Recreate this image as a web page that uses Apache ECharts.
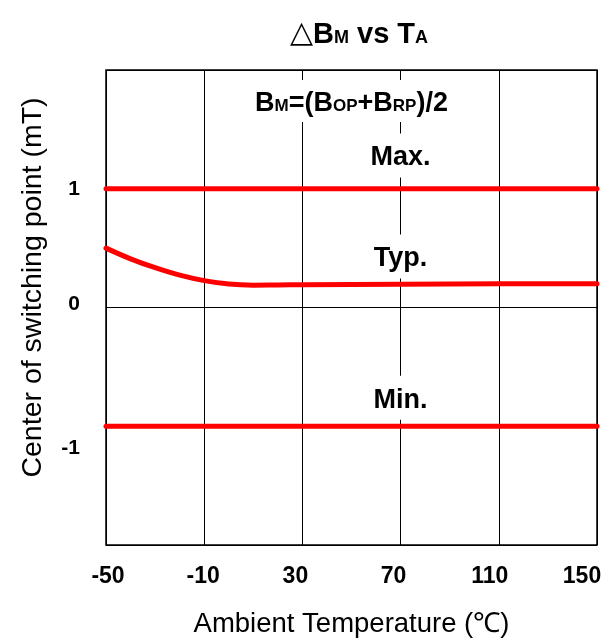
<!DOCTYPE html>
<html><head><meta charset="utf-8">
<script src="https://cdn.jsdelivr.net/npm/echarts@6/dist/echarts.min.js"></script>
<style>html,body{margin:0;padding:0;background:#fff}#c{width:609px;height:642px}</style>
</head><body><div id="c"></div>
<script>
// ---- data ----
const xTickLabels = [-50, -10, 30, 70, 110, 150];
const yTickLabels = [1, 0, -1];
const maxTemps = [-50, 150];
const maxValues = [1, 1];
const typTemps = [-50, -40, -30, -20, -10, 0, 10, 20, 30, 70, 110, 150];
const typValues = [0.5, 0.41, 0.335, 0.272, 0.226, 0.197, 0.188, 0.19, 0.192, 0.196, 0.2, 0.2];
const minTemps = [-50, 150];
const minValues = [-1, -1];
const noteTexts = ['{b|B}{s|M}{b|=(B}{s|OP}{b|+B}{s|RP}{b|)/2}', '{b|Max.}', '{b|Typ.}', '{b|Min.}'];
const noteTemps = [50, 70, 70, 70];
const noteValues = [1.74, 1.28, 0.43, -0.76];

// x axis is drawn in (T - xMin) so that ticks are counted from a multiple of the interval
const xMin = xTickLabels[0], xMax = xTickLabels[xTickLabels.length - 1];
const xStep = xTickLabels[1] - xTickLabels[0];
const shift = t => t - xMin;
const pairs = (ts, vs) => ts.map((t, i) => [shift(t), vs[i]]);

const FONT = '"Liberation Sans", Arial, sans-serif';
const RED = '#ff0000';
// horizontal nudge (px) of each x tick label, as printed in the original figure
const xLabelNudge = [2, -1, -7, -7, -9, -15];

const chart = echarts.init(document.getElementById('c'), null, {renderer: 'canvas'});
const lineStyle = {color: RED, width: 5, cap: 'round', join: 'round'};

const notes = noteTexts.map((txt, i) => ({
  value: [shift(noteTemps[i]), noteValues[i]],
  label: {
    formatter: txt,
    padding: i === 0 ? [5, 32, 5, 32] : [6, 5, 6, 5]
  }
}));

const xRich = {};
xLabelNudge.forEach((n, i) => {
  xRich['x' + i] = {
    fontFamily: FONT, fontSize: 23, fontWeight: 'bold', color: '#000',
    padding: n >= 0 ? [0, 0, 0, 2 * n] : [0, -2 * n, 0, 0]
  };
});

chart.setOption({
  animation: false,
  backgroundColor: '#fff',
  title: {
    text: '{tri|△}{b|B}{s|M}{b| vs T}{s|A}',
    left: 354, top: 6, textAlign: 'center',
    textStyle: {
      fontFamily: FONT,
      rich: {
        tri: {fontFamily: '"DejaVu Sans", sans-serif', fontSize: 30, fontWeight: 'normal', color: '#000', verticalAlign: 'bottom', lineHeight: 38},
        b: {fontFamily: FONT, fontSize: 29, fontWeight: 'bold', color: '#000', verticalAlign: 'bottom', lineHeight: 38},
        s: {fontFamily: FONT, fontSize: 18, fontWeight: 'bold', color: '#000', verticalAlign: 'bottom', lineHeight: 38, padding: [0, 0, 2, 0]}
      }
    }
  },
  grid: {left: 106, right: 12, top: 70, bottom: 97, show: true, borderColor: '#000', borderWidth: 1.5, containLabel: false, outerBoundsMode: 'none'},
  xAxis: {
    type: 'value', min: 0, max: shift(xMax), interval: xStep,
    axisLine: {show: false}, axisTick: {show: false},
    splitLine: {show: true, lineStyle: {color: '#000', width: 1}},
    axisLabel: {
      formatter: v => {
        const t = v + xMin;
        const i = xTickLabels.indexOf(t);
        return i < 0 ? '' : '{x' + i + '|' + t + '}';
      },
      margin: 20, rich: xRich,
      fontFamily: FONT, fontSize: 23, fontWeight: 'bold', color: '#000'
    },
    name: 'Ambient Temperature (℃)', nameLocation: 'middle', nameGap: 65,
    nameTextStyle: {fontFamily: FONT, fontSize: 27.5, color: '#000'}
  },
  yAxis: {
    type: 'value', min: -2, max: 2, interval: 1,
    axisLine: {show: false}, axisTick: {show: false},
    splitLine: {show: true, lineStyle: {color: '#000', width: 1}},
    axisLabel: {
      margin: 26, fontFamily: FONT, fontSize: 21, fontWeight: 'bold', color: '#000',
      formatter: v => {
        if (!yTickLabels.includes(v)) return '';
        if (v === -1) return '{dn|' + v + '}';
        if (v === 0) return '{up|' + v + '}';
        return '{n|' + v + '}';
      },
      rich: {
        n: {fontFamily: FONT, fontSize: 21, fontWeight: 'bold', color: '#000'},
        up: {fontFamily: FONT, fontSize: 21, fontWeight: 'bold', color: '#000', padding: [0, 0, 7, 0]},
        dn: {fontFamily: FONT, fontSize: 21, fontWeight: 'bold', color: '#000', padding: [43, 0, 0, 0]}
      }
    },
    name: 'Center of switching point (mT)', nameLocation: 'middle', nameGap: 58,
    nameTextStyle: {fontFamily: FONT, fontSize: 28.5, color: '#000', padding: [0, 0, 0, 40]}
  },
  series: [
    {name: 'Max.', type: 'line', data: pairs(maxTemps, maxValues), showSymbol: false, lineStyle, z: 3},
    {name: 'Typ.', type: 'line', data: pairs(typTemps, typValues), smooth: 0.4, showSymbol: false, lineStyle, z: 3},
    {name: 'Min.', type: 'line', data: pairs(minTemps, minValues), showSymbol: false, lineStyle, z: 3},
    {
      name: 'notes', type: 'scatter', symbolSize: 0, z: 4, silent: true,
      itemStyle: {opacity: 1},
      data: notes,
      label: {
        show: true, position: 'inside', backgroundColor: '#fff', opacity: 1,
        fontFamily: FONT, fontSize: 27, fontWeight: 'bold', color: '#000',
        rich: {
          b: {fontFamily: FONT, fontSize: 27, fontWeight: 'bold', color: '#000', verticalAlign: 'bottom', lineHeight: 32},
          s: {fontFamily: FONT, fontSize: 17, fontWeight: 'bold', color: '#000', verticalAlign: 'bottom', lineHeight: 32, padding: [0, 0, 2, 0]}
        }
      }
    }
  ]
});
</script></body></html>
